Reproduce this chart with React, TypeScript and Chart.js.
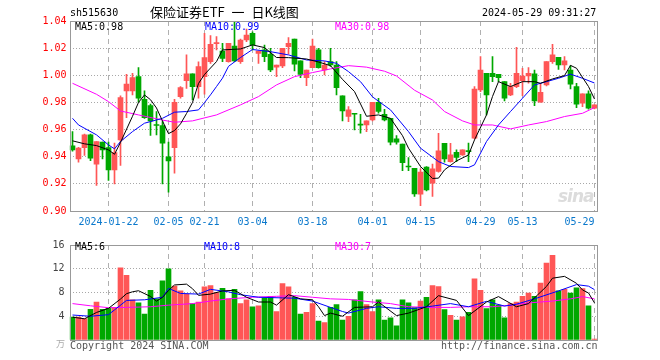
import React, { useEffect, useRef } from 'react';
import { Chart, registerables } from 'chart.js';

Chart.register(...registerables);

const dates = [
  '2024-01-12', '2024-01-15', '2024-01-16', '2024-01-17', '2024-01-18', '2024-01-19',
  '2024-01-22', '2024-01-23', '2024-01-24', '2024-01-25', '2024-01-26',
  '2024-01-29', '2024-01-30', '2024-01-31', '2024-02-01', '2024-02-02',
  '2024-02-05', '2024-02-06', '2024-02-07', '2024-02-08',
  '2024-02-19', '2024-02-20', '2024-02-21', '2024-02-22', '2024-02-23',
  '2024-02-26', '2024-02-27', '2024-02-28', '2024-02-29', '2024-03-01',
  '2024-03-04', '2024-03-05', '2024-03-06', '2024-03-07', '2024-03-08',
  '2024-03-11', '2024-03-12', '2024-03-13', '2024-03-14', '2024-03-15',
  '2024-03-18', '2024-03-19', '2024-03-20', '2024-03-21', '2024-03-22',
  '2024-03-25', '2024-03-26', '2024-03-27', '2024-03-28', '2024-03-29',
  '2024-04-01', '2024-04-02', '2024-04-03',
  '2024-04-08', '2024-04-09', '2024-04-10', '2024-04-11', '2024-04-12',
  '2024-04-15', '2024-04-16', '2024-04-17', '2024-04-18', '2024-04-19',
  '2024-04-22', '2024-04-23', '2024-04-24', '2024-04-25', '2024-04-26',
  '2024-04-29', '2024-04-30',
  '2024-05-06', '2024-05-07', '2024-05-08', '2024-05-09', '2024-05-10',
  '2024-05-13', '2024-05-14', '2024-05-15', '2024-05-16', '2024-05-17',
  '2024-05-20', '2024-05-21', '2024-05-22', '2024-05-23', '2024-05-24',
  '2024-05-27', '2024-05-28', '2024-05-29',
];

const tickDates = [
  '2024-01-22', '2024-02-05', '2024-02-21', '2024-03-04', '2024-03-18',
  '2024-04-01', '2024-04-15', '2024-04-29', '2024-05-13', '2024-05-29',
];

const opens = [
  0.948, 0.9384, 0.9467, 0.9561, 0.9345, 0.9507, 0.9467, 0.9303, 0.9524, 0.9885,
  0.9885, 0.999, 0.9823, 0.9777, 0.9633, 0.9629, 0.9399, 0.9467, 0.9843, 0.9961,
  1.001, 0.9917, 0.999, 1.0101, 1.0233, 1.0179, 1.0101, 1.0216, 1.0101, 1.026,
  1.0309, 1.0162, 1.0187, 1.0155, 1.0059, 1.0069, 1.0211, 1.0267, 1.0106, 0.9983,
  1.0056, 1.0187, 1.0039, 1.0101, 1.0076, 0.9848, 0.9696, 0.9716, 0.9636, 0.9634,
  0.9671, 0.9801, 0.9713, 0.9683, 0.9531, 0.9494, 0.9327, 0.9315, 0.9124, 0.9323,
  0.9205, 0.9291, 0.9499, 0.9364, 0.9433, 0.9413, 0.9441, 0.9536, 0.9892, 1.0015,
  1.0015, 1.0007, 0.9953, 0.9855, 0.9917, 0.9961, 0.9995, 1.001, 0.9801, 0.9929,
  1.0101, 1.0133, 1.0076, 1.0039, 0.9917, 0.9794, 0.9863, 0.9757,
];

const highs = [
  0.9585, 0.947, 0.9566, 0.9566, 0.9512, 0.9507, 0.9507, 0.95, 0.9848, 1.0007,
  1.0015, 1.0056, 0.9885, 0.9787, 0.9733, 0.9659, 0.9507, 0.9823, 0.9917, 1.015,
  1.001, 1.01, 1.031, 1.0292, 1.0285, 1.0236, 1.0236, 1.04, 1.0267, 1.0341,
  1.0321, 1.0179, 1.0223, 1.0199, 1.0076, 1.0199, 1.0277, 1.0267, 1.0106, 1.0039,
  1.0267, 1.0199, 1.0101, 1.0199, 1.0101, 0.9848, 0.9769, 0.9716, 0.9713, 0.9664,
  0.9801, 0.9831, 0.975, 0.9683, 0.9556, 0.9494, 0.9394, 0.9315, 0.931, 0.9328,
  0.9345, 0.9573, 0.9499, 0.9499, 0.945, 0.945, 0.95, 0.9917, 1.0137, 1.0015,
  1.0137, 1.0007, 0.9953, 0.9941, 1.0206, 1.0052, 1.0056, 1.0039, 0.9941, 1.0101,
  1.0228, 1.0133, 1.0137, 1.0071, 0.9941, 0.9863, 0.9885, 0.9782,
];

const lows = [
  0.944, 0.936, 0.9409, 0.937, 0.9188, 0.9384, 0.9225, 0.92, 0.9335, 0.9688,
  0.9855, 0.9801, 0.9683, 0.9556, 0.9561, 0.92, 0.9139, 0.9279, 0.9831, 0.9904,
  0.9818, 0.9831, 0.986, 1.0088, 1.0187, 1.0101, 1.0096, 1.0101, 1.0088, 1.0248,
  1.0187, 1.0088, 1.0101, 1.0027, 0.999, 1.0056, 1.0155, 1.0032, 0.9983, 0.9924,
  1.0056, 1.0052, 1.0002, 1.0066, 0.9855, 0.9664, 0.9659, 0.9598, 0.9573, 0.9585,
  0.9664, 0.972, 0.9664, 0.9487, 0.9492, 0.9298, 0.9298, 0.9107, 0.904, 0.9148,
  0.9107, 0.9286, 0.936, 0.936, 0.9364, 0.9409, 0.9364, 0.9531, 0.988, 0.9708,
  0.9953, 0.9953, 0.9811, 0.985, 0.9909, 0.985, 0.9941, 0.9777, 0.9801, 0.9921,
  1.0088, 1.0044, 1.0039, 0.9899, 0.9762, 0.9769, 0.975, 0.9752,
];

const closes = [
  0.945, 0.9463, 0.9561, 0.9389, 0.9512, 0.945, 0.9303, 0.9431, 0.9836, 0.9936,
  0.9983, 0.9831, 0.9688, 0.9664, 0.963, 0.95, 0.9369, 0.9801, 0.9909, 1.001,
  0.9917, 1.0064, 1.013, 1.0228, 1.0238, 1.0125, 1.0236, 1.0106, 1.026, 1.0297,
  1.0223, 1.0179, 1.0137, 1.0039, 1.0076, 1.0199, 1.0236, 1.0081, 1.0007, 1.0039,
  1.0216, 1.0056, 1.0076, 1.0076, 0.9909, 0.9737, 0.9745, 0.9713, 0.9633, 0.9664,
  0.9801, 0.9733, 0.9671, 0.9507, 0.9507, 0.9357, 0.9324, 0.9126, 0.9286, 0.9156,
  0.931, 0.9443, 0.9384, 0.9413, 0.9394, 0.945, 0.9438, 0.9899, 1.0039, 0.9855,
  0.999, 0.9983, 0.9831, 0.9917, 1.0015, 0.9995, 1.0015, 0.9811, 0.9875, 1.0101,
  1.015, 1.0076, 1.0106, 0.9934, 0.9787, 0.9863, 0.9757, 0.9782,
];

// volume in units of 万 (10k)
const volumes = [
  3.84, 3.84, 3.6, 5.17, 6.4, 5.17, 5.33, 5.44, 12.16, 10.88,
  6.77, 6.24, 4.37, 8.37, 6.93, 9.97, 12.0, 9.07, 8.27, 7.73,
  6.13, 6.4, 8.96, 9.17, 8.0, 8.69, 6.93, 8.53, 6.13, 6.77,
  5.6, 5.76, 7.04, 7.36, 4.8, 9.49, 8.96, 7.2, 4.37, 4.64,
  6.13, 3.2, 2.93, 5.49, 5.97, 3.36, 4.0, 6.77, 8.16, 5.97,
  4.8, 6.77, 3.36, 3.73, 2.4, 6.77, 6.24, 5.44, 6.56, 7.2,
  9.17, 9.01, 5.12, 4.16, 3.36, 3.89, 4.64, 10.29, 8.37, 5.3,
  6.77, 5.87, 3.73, 6.13, 6.4, 7.36, 7.89, 7.36, 9.6, 12.96,
  14.24, 8.27, 8.53, 7.89, 8.8, 8.64, 5.76, 0.16,
];

// moving-average lines: [candle index, value]
const priceMA5: [number, number][] = [
  [0, 0.9517], [2, 0.9495], [4, 0.9482], [6, 0.945], [7, 0.9418], [8, 0.9506], [10, 0.9698],
  [11, 0.980], [12, 0.9855], [13, 0.982], [14, 0.9759], [15, 0.9663], [16, 0.957], [17, 0.9593],
  [18, 0.9642], [19, 0.9718], [20, 0.98], [21, 0.994], [22, 1.0006], [24, 1.0101], [25, 1.0187],
  [28, 1.0194], [30, 1.0224], [32, 1.0204], [34, 1.0131], [36, 1.013], [39, 1.012], [41, 1.0098],
  [43, 1.0071], [45, 0.997], [47, 0.988], [49, 0.9698], [51, 0.9708], [53, 0.9683], [55, 0.9555],
  [56, 0.9463], [58, 0.9328], [60, 0.924], [61, 0.9242], [62, 0.9303], [64, 0.9369], [66, 0.9413],
  [67, 0.9524], [69, 0.9708], [70, 0.9844], [71, 0.9953], [73, 0.9917], [75, 0.9953], [77, 0.9953],
  [78, 0.9941], [80, 0.9973], [82, 0.9998], [83, 1.0073], [84, 1.0052], [86, 0.9917], [87, 0.9825],
];

const priceMA10: [number, number][] = [
  [0, 0.9683], [1, 0.9634], [4, 0.9561], [6, 0.9487], [7, 0.9458], [8, 0.9512], [10, 0.9585],
  [12, 0.9647], [15, 0.9683], [17, 0.9728], [19, 0.9733], [21, 0.9745], [22, 0.9799], [23, 0.9856],
  [24, 0.9917], [25, 0.9979], [26, 1.0066], [28, 1.0131], [30, 1.019], [33, 1.0174], [36, 1.015],
  [39, 1.0113], [42, 1.0106], [44, 1.0088], [46, 1.0027], [48, 0.9953], [50, 0.9841], [53, 0.9745],
  [56, 0.9585], [58, 0.9463], [61, 0.9364], [63, 0.9328], [66, 0.932], [67, 0.934], [69, 0.9512],
  [71, 0.9634], [73, 0.9733], [75, 0.9831], [77, 0.9929], [79, 0.9953], [81, 0.9978], [83, 1.0008],
  [85, 0.9978], [87, 0.9943],
];

const priceMA30: [number, number][] = [
  [0, 0.9941], [4, 0.986], [6, 0.9806], [8, 0.9737], [11, 0.9708], [15, 0.967], [17, 0.9654],
  [20, 0.9664], [24, 0.9708], [28, 0.9782], [31, 0.9843], [34, 0.9929], [37, 0.999], [40, 1.002],
  [43, 1.0047], [46, 1.0071], [49, 1.006], [52, 1.003], [54, 0.9995], [57, 0.989], [60, 0.9818],
  [62, 0.9733], [65, 0.9664], [67, 0.9634], [70, 0.9634], [73, 0.9605], [76, 0.9634], [79, 0.9659],
  [82, 0.9696], [85, 0.972], [87, 0.9762],
];

const volMA5: [number, number][] = [
  [0, 3.84], [2, 3.57], [4, 4.64], [6, 5.33], [8, 6.9], [9, 7.8], [10, 8.12], [11, 8.3],
  [13, 7.33], [14, 6.54], [15, 7.18], [16, 8.33], [17, 9.27], [19, 9.41], [20, 8.64], [21, 7.52],
  [23, 7.73], [25, 8.27], [27, 8.37], [29, 7.2], [31, 6.4], [33, 6.4], [34, 5.87], [36, 7.63],
  [38, 6.93], [40, 6.77], [41, 5.6], [42, 4.11], [43, 4.53], [45, 4.0], [47, 5.49], [50, 5.6],
  [51, 6.4], [54, 4.11], [56, 4.53], [59, 5.6], [61, 7.47], [64, 6.67], [66, 4.11], [69, 6.4],
  [71, 7.31], [74, 5.6], [76, 6.13], [79, 9.03], [80, 10.41], [82, 10.72], [84, 9.55], [85, 8.43],
  [86, 7.92], [87, 6.25],
];

const volMA10: [number, number][] = [
  [0, 4.21], [3, 4.0], [6, 4.27], [7, 5.07], [9, 6.67], [12, 6.77], [15, 7.2], [16, 8.69],
  [18, 7.84], [21, 7.73], [23, 8.53], [26, 8.11], [28, 7.63], [31, 7.2], [35, 7.09], [37, 7.04],
  [40, 6.56], [43, 5.49], [45, 4.8], [46, 4.53], [49, 5.33], [51, 5.6], [54, 5.33], [57, 5.33],
  [60, 5.71], [63, 6.13], [66, 5.6], [69, 6.51], [72, 5.71], [74, 6.03], [77, 6.93], [81, 8.27],
  [84, 9.33], [86, 9.07], [87, 8.48],
];

const volMA30: [number, number][] = [
  [0, 6.13], [3, 5.76], [6, 5.44], [9, 5.49], [13, 5.6], [16, 5.87], [20, 6.13], [23, 6.56],
  [26, 6.93], [30, 7.2], [34, 7.36], [37, 7.47], [40, 7.2], [43, 6.93], [46, 6.83], [50, 6.4],
  [53, 6.13], [56, 5.6], [60, 5.49], [63, 5.49], [66, 5.6], [70, 5.6], [73, 5.87], [76, 6.24],
  [80, 6.56], [83, 6.93], [85, 7.31], [87, 6.93],
];

const priceMin = 0.9;
const priceMax = 1.04;
const priceStep = 0.02;
const volMin = 0;
const volMax = 16;
const volStep = 4;

const RED = '#ff5656';
const GREEN = '#00a800';
const MONO = "'DejaVu Sans Mono', 'Liberation Mono', monospace";

const framePlugin = {
  id: 'frame',
  afterDraw(chart: any) {
    const { ctx, chartArea: a } = chart;
    ctx.save();
    ctx.strokeStyle = '#999';
    ctx.lineWidth = 1;
    const l = Math.floor(a.left) + 1.5;
    const r = Math.floor(a.right) + 0.5;
    const t = Math.round(a.top) + 0.5;
    const b = Math.round(a.bottom) + 0.5;
    ctx.strokeRect(l, t, r - l, b - t);
    ctx.restore();
  },
};

const txt = (extra: React.CSSProperties): React.CSSProperties => ({
  position: 'absolute',
  whiteSpace: 'pre',
  font: `10px ${MONO}`,
  lineHeight: '12px',
  ...extra,
});

export default function App() {
  const priceRef = useRef<HTMLCanvasElement>(null);
  const volRef = useRef<HTMLCanvasElement>(null);

  useEffect(() => {
    const tickIdx = new Set(tickDates.map((d) => dates.indexOf(d)));
    const firstTick = dates.indexOf(tickDates[0]);
    const lastTick = dates.indexOf(tickDates[tickDates.length - 1]);
    const colors = closes.map((c, i) => (c >= opens[i] ? RED : GREEN));
    const toPts = (pts: [number, number][]) => pts.map(([i, v]) => ({ x: dates[i], y: v }));
    const line = (pts: [number, number][], color: string) => ({
      type: 'line' as const,
      data: toPts(pts) as any,
      borderColor: color,
      borderWidth: 1,
      pointRadius: 0,
      pointHoverRadius: 0,
      tension: 0,
      fill: false,
    });
    const xGridColor = (c: any) => (tickIdx.has(c.index) ? '#b0b0b0' : 'rgba(0,0,0,0)');

    const priceChart = new Chart(priceRef.current!, {
      type: 'bar',
      data: {
        labels: dates,
        datasets: [
          line(priceMA5, '#000000'),
          line(priceMA10, '#0000ff'),
          line(priceMA30, '#ff00ff'),
          {
            type: 'bar',
            data: opens.map((o, i) => [Math.min(o, closes[i]), Math.max(o, closes[i])]) as any,
            backgroundColor: colors,
            barThickness: 5,
            minBarLength: 1,
            grouped: false,
            borderWidth: 0,
          },
          {
            type: 'bar',
            data: lows.map((l, i) => [l, highs[i]]) as any,
            backgroundColor: colors,
            barThickness: 1,
            grouped: false,
            borderWidth: 0,
          },
        ],
      },
      options: {
        responsive: false,
        animation: false,
        events: [],
        layout: { padding: { left: 0, right: 62.5, top: 21, bottom: 0 } },
        plugins: { legend: { display: false }, tooltip: { enabled: false } },
        scales: {
          x: {
            type: 'category',
            offset: true,
            grid: { offset: false, drawTicks: false, color: xGridColor, lineWidth: 1 },
            border: { display: false, dash: [5, 4] },
            ticks: {
              autoSkip: false,
              maxRotation: 0,
              minRotation: 0,
              padding: 5,
              color: '#0a78cc',
              font: { family: MONO, size: 10 },
              callback: (_v: any, i: number) => {
                if (!tickIdx.has(i)) return '';
                if (i === firstTick) return dates[i];
                if (i === lastTick) return dates[i].slice(5) + '     ';
                return dates[i].slice(5);
              },
            },
            afterFit: (s: any) => {
              s.height = 24;
            },
          },
          y: {
            type: 'linear',
            min: priceMin,
            max: priceMax,
            grid: {
              drawTicks: false,
              color: (c: any) =>
                c.tick && (c.tick.value < priceMin + 1e-6 || c.tick.value > priceMax - 1e-6)
                  ? 'rgba(0,0,0,0)'
                  : '#a8a8a8',
            },
            border: { display: false, dash: [1, 2] },
            ticks: {
              stepSize: priceStep,
              padding: 3,
              color: '#ff0000',
              font: { family: MONO, size: 10 },
              callback: (v: any) => Number(v).toFixed(2),
            },
            afterFit: (s: any) => {
              s.width = 69.5;
            },
          },
        },
      } as any,
      plugins: [framePlugin],
    });

    const volChart = new Chart(volRef.current!, {
      type: 'bar',
      data: {
        labels: dates,
        datasets: [
          line(volMA5, '#000000'),
          line(volMA10, '#0000ff'),
          line(volMA30, '#ff00ff'),
          {
            type: 'bar',
            data: volumes as any,
            backgroundColor: colors,
            barThickness: 5,
            grouped: false,
            borderWidth: 0,
          },
        ],
      },
      options: {
        responsive: false,
        animation: false,
        events: [],
        layout: { padding: { left: 0, right: 62.5, top: 6, bottom: 0 } },
        plugins: { legend: { display: false }, tooltip: { enabled: false } },
        scales: {
          x: {
            type: 'category',
            offset: true,
            grid: { offset: false, drawTicks: false, color: xGridColor, lineWidth: 1 },
            border: { display: false, dash: [5, 4] },
            ticks: { display: false, autoSkip: false },
            afterFit: (s: any) => {
              s.height = 20;
            },
          },
          y: {
            type: 'linear',
            min: volMin,
            max: volMax,
            grid: {
              drawTicks: false,
              color: (c: any) =>
                c.tick && (c.tick.value <= volMin || c.tick.value >= volMax)
                  ? 'rgba(0,0,0,0)'
                  : '#a8a8a8',
            },
            border: { display: false, dash: [1, 2] },
            ticks: {
              stepSize: volStep,
              padding: 5,
              color: '#444444',
              font: { family: MONO, size: 10 },
              callback: (v: any) => (Number(v) === 0 ? '' : String(v)),
            },
            afterFit: (s: any) => {
              s.width = 69.5;
            },
          },
        },
      } as any,
      plugins: [framePlugin],
    });

    return () => {
      priceChart.destroy();
      volChart.destroy();
    };
  }, []);

  return (
    <div
      style={{
        position: 'absolute',
        left: 0,
        top: 0,
        width: 660,
        height: 360,
        background: '#ffffff',
        overflow: 'hidden',
      }}
    >
      <canvas
        ref={priceRef}
        width={660}
        height={235}
        style={{ position: 'absolute', left: 0, top: 0, width: 660, height: 235 }}
      />
      <canvas
        ref={volRef}
        width={660}
        height={126}
        style={{ position: 'absolute', left: 0, top: 234, width: 660, height: 126 }}
      />

      <div style={txt({ left: 70, top: 7, color: '#000' })}>sh515630</div>
      <div
        style={{
          position: 'absolute',
          left: 150,
          top: 3,
          whiteSpace: 'pre',
          font: "13px 'Noto Sans CJK SC', sans-serif",
          lineHeight: '18px',
          wordSpacing: '4px',
          color: '#000',
        }}
      >
        保险证券ETF 一 日K线图
      </div>
      <div style={txt({ left: 482, top: 7, color: '#000' })}>2024-05-29 09:31:27</div>

      <div style={txt({ left: 75, top: 21, color: '#000' })}>MA5:0.98</div>
      <div style={txt({ left: 205, top: 21, color: '#0000ff' })}>MA10:0.99</div>
      <div style={txt({ left: 335, top: 21, color: '#ff00ff' })}>MA30:0.98</div>

      <div
        style={{
          position: 'absolute',
          left: 558,
          top: 186,
          font: "italic bold 17px 'DejaVu Sans', sans-serif",
          color: '#dcdcdc',
          letterSpacing: '-1px',
        }}
      >
        sina
      </div>

      <div style={txt({ left: 75, top: 241, color: '#000' })}>MA5:6</div>
      <div style={txt({ left: 204, top: 241, color: '#0000ff' })}>MA10:8</div>
      <div style={txt({ left: 335, top: 241, color: '#ff00ff' })}>MA30:7</div>

      <div
        style={{
          position: 'absolute',
          left: 56,
          top: 338,
          font: "9px 'Noto Sans CJK SC', sans-serif",
          lineHeight: '11px',
          color: '#aaaaaa',
        }}
      >
        万
      </div>
      <div style={txt({ left: 70, top: 340, color: '#555' })}>Copyright 2024 SINA.COM</div>
      <div style={txt({ left: 441, top: 340, color: '#555' })}>http://finance.sina.com.cn</div>
    </div>
  );
}
